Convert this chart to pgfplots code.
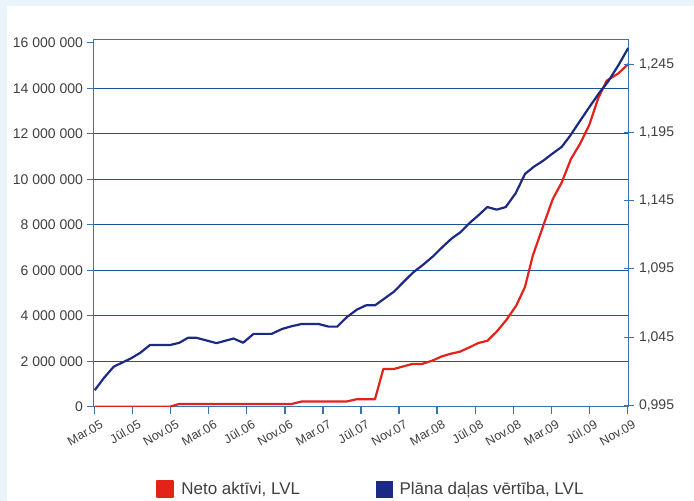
\documentclass[border=0pt]{standalone}
\usepackage{fontspec}
\setmainfont{Liberation Sans}
\usepackage{pgfplots}
\pgfplotsset{compat=1.18}
\definecolor{bgblue}{RGB}{234,244,251}
\definecolor{gridblue}{RGB}{30,85,145}
\definecolor{axisblue}{RGB}{55,115,175}
\definecolor{netred}{RGB}{226,35,26}
\definecolor{navblue}{RGB}{27,42,132}
\definecolor{txt}{RGB}{64,64,64}

\begin{document}
\begin{tikzpicture}
\useasboundingbox (0,0) rectangle (694bp,-501bp);
\fill[bgblue] (0,0) rectangle (694bp,-501bp);
\fill[white] (7bp,-6bp) rectangle (694bp,-501bp);
% left axis: net assets
\begin{axis}[
  at={(93.5bp,-406.7bp)}, anchor=south west,
  scale only axis, width=535bp, height=367.2bp,
  xmin=-0.13, xmax=56.13, ymin=0, ymax=16.14,
  axis line style={axisblue, line width=1.4bp},
  xtick pos=bottom, ytick pos=left,
  tick align=outside, major tick length=7bp,
  tick style={axisblue, line width=1.2bp},
  xtick={0,4,...,56},
  xticklabels={Mar.05,Jūl.05,Nov.05,Mar.06,Jūl.06,Nov.06,Mar.07,Jūl.07,Nov.07,Mar.08,Jūl.08,Nov.08,Mar.09,Jūl.09,Nov.09},
  xticklabel style={font=\fontsize{12.5bp}{14bp}\selectfont, text=txt,
    xshift=6bp, yshift=-1bp, rotate=30, anchor=north east},
  ytick={0,2,...,14},
  yticklabels={0,2 000 000,4 000 000,6 000 000,8 000 000,10 000 000,12 000 000,14 000 000},
  extra y ticks={16}, extra y tick labels={16 000 000},
  extra y tick style={grid=none},
  yticklabel style={font=\fontsize{14bp}{16bp}\selectfont, text=txt},
  ymajorgrids, grid style={gridblue, line width=1.2bp},
  legend columns=2,
  legend style={at={(0.1168,-0.2241)}, anchor=west, draw=none, fill=none,
    inner sep=0pt, font=\fontsize{17bp}{19bp}\selectfont, text=txt,
    /tikz/every even column/.append style={column sep=74bp}},
  legend image code/.code={\fill[#1] (0bp,-8bp) rectangle (16bp,8bp);},
]
\addplot[color=netred, line width=2.2bp, line join=round] coordinates {
  (0,0) (7.92,0) (8.86,0.12) (20.72,0.12) (21.77,0.23) (26.5,0.23)
  (27.55,0.33) (29.47,0.33) (30.35,1.66) (31.47,1.66) (33.4,1.88)
  (34.42,1.88) (35.47,2.02) (36.49,2.21) (37.36,2.32) (38.41,2.42)
  (39.46,2.62) (40.34,2.80) (41.3,2.90) (42.27,3.30) (43.28,3.81)
  (44.32,4.44) (45.25,5.27) (46.06,6.63) (47.17,7.96) (48.16,9.12)
  (49.1,9.85) (50.08,10.89) (51.03,11.55) (52.0,12.38) (52.95,13.56)
  (53.84,14.33) (55.06,14.65) (56.1,15.06)
};
\addlegendentry{\hspace{5bp}Neto aktīvi, LVL}
\addlegendimage{color=navblue}
\addlegendentry{\hspace{5bp}Plāna daļas vērtība, LVL}
\end{axis}
% right axis: unit value
\begin{axis}[
  at={(93.5bp,-406.7bp)}, anchor=south west,
  scale only axis, width=535bp, height=367.2bp,
  xmin=-0.13, xmax=56.13, ymin=0.99405, ymax=1.26304,
  axis x line=none, axis y line*=right,
  axis line style={axisblue, line width=1.4bp},
  tick align=center, major tick length=10bp,
  tick style={axisblue, line width=1.2bp},
  ytick={0.995,1.045,1.095,1.145,1.195,1.245},
  yticklabels={{0,995},{1,045},{1,095},{1,145},{1,195},{1,245}},
  yticklabel style={font=\fontsize{14bp}{16bp}\selectfont, text=txt, xshift=2bp},
]
\addplot[color=navblue, line width=2.2bp, line join=round] coordinates {
  (0,1.0061) (1,1.0154) (2,1.0234) (3.8,1.0294) (4.8,1.0336) (5.8,1.0392)
  (7.9,1.0392) (8.9,1.0409) (9.8,1.0445) (10.7,1.0445) (11.8,1.0425)
  (12.8,1.0406) (14.6,1.0440) (15.6,1.0409) (16.7,1.0474) (18.6,1.0474)
  (19.7,1.0510) (20.7,1.0530) (21.8,1.0547) (23.5,1.0547) (24.6,1.0527)
  (25.5,1.0527) (26.5,1.0596) (27.55,1.0651) (28.53,1.0683) (29.47,1.0683)
  (30.53,1.0736) (31.5,1.0785) (32.52,1.0858) (33.5,1.0925) (34.49,1.0978)
  (35.54,1.1040) (36.59,1.1112) (37.54,1.1173) (38.41,1.1216) (39.46,1.1289)
  (40.34,1.1342) (41.28,1.1403) (42.27,1.1384) (43.22,1.1403) (44.27,1.1505)
  (45.25,1.1646) (46.19,1.1699) (47.17,1.1743) (48.16,1.1796) (49.11,1.1844)
  (49.98,1.1924) (51.03,1.2034) (52.09,1.2143) (53.06,1.2240) (54.01,1.2325)
  (55.06,1.2441) (56.1,1.2568)
};
\end{axis}
\end{tikzpicture}
\end{document}
